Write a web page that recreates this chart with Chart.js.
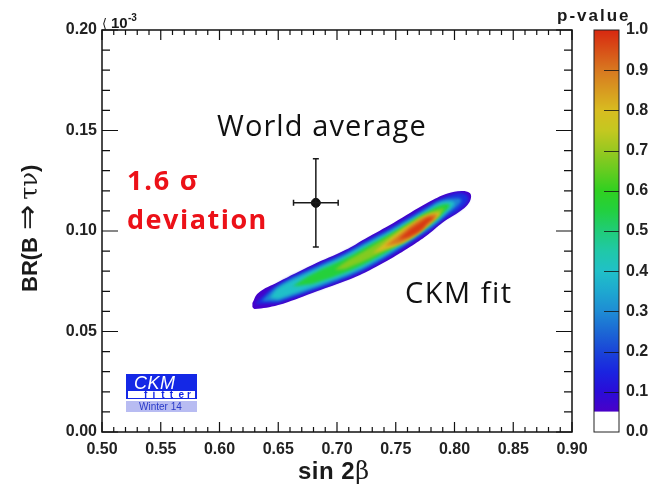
<!DOCTYPE html>
<html>
<head>
<meta charset="utf-8">
<script src="https://cdn.jsdelivr.net/npm/chart.js@4.4.1/dist/chart.umd.min.js"></script>
<style>
  body { margin: 0; background: #fff; }
  #wrap { position: relative; width: 651px; height: 486px; }
  #wrap canvas { position: absolute; top: 0; }
  #main { left: 0; }
  #bar { left: 585px; }
</style>
</head>
<body>
<div id="wrap">
  <canvas id="main" width="651" height="486"></canvas>
  <canvas id="bar" width="66" height="486"></canvas>
</div>
<script>
// axis tick labels
const xTickLabels = ['0.50', '0.55', '0.60', '0.65', '0.70', '0.75', '0.80', '0.85', '0.90'];
const yTickLabels = ['0.00', '0.05', '0.10', '0.15', '0.20'];
const pTickLabels = ['0.0', '0.1', '0.2', '0.3', '0.4', '0.5', '0.6', '0.7', '0.8', '0.9', '1.0'];

// world average (sin 2beta, BR x 1e-3)
const worldX = [0.682];
const worldXErr = [0.019];
const worldY = [0.114];
const worldYErr = [0.022];

// CKM fit p-value contours, outer to inner, [sin2beta, BR]
const contourLevels = [0.06, 0.17, 0.29, 0.40, 0.56, 0.68, 0.80, 0.90, 0.98];
const cl1 = [[0.628,0.0642],[0.633,0.0692],[0.650,0.0746],[0.679,0.0831],[0.707,0.0905],[0.724,0.0962],[0.748,0.1040],[0.777,0.1140],[0.794,0.1186],[0.806,0.1199],[0.813,0.1189],[0.814,0.1164],[0.811,0.1129],[0.805,0.1099],[0.790,0.1042],[0.777,0.0980],[0.762,0.0920],[0.748,0.0870],[0.724,0.0794],[0.707,0.0751],[0.679,0.0692],[0.650,0.0632],[0.630,0.0612],[0.628,0.0622]];
const cl2 = [[0.630,0.0637],[0.650,0.0736],[0.679,0.0821],[0.707,0.0896],[0.724,0.0950],[0.748,0.1025],[0.777,0.1124],[0.790,0.1164],[0.805,0.1189],[0.812,0.1164],[0.805,0.1109],[0.790,0.1055],[0.777,0.0995],[0.748,0.0886],[0.724,0.0806],[0.707,0.0761],[0.679,0.0701],[0.650,0.0642]];
const cl3 = [[0.636,0.0652],[0.650,0.0726],[0.679,0.0811],[0.707,0.0886],[0.724,0.0940],[0.748,0.1015],[0.777,0.1114],[0.790,0.1154],[0.806,0.1154],[0.790,0.1065],[0.777,0.1005],[0.748,0.0896],[0.724,0.0816],[0.707,0.0771],[0.679,0.0711],[0.650,0.0652]];
const cl4 = [[0.643,0.0667],[0.650,0.0716],[0.679,0.0801],[0.707,0.0876],[0.724,0.0930],[0.748,0.1005],[0.777,0.1104],[0.790,0.1144],[0.800,0.1139],[0.790,0.1075],[0.777,0.1015],[0.748,0.0905],[0.724,0.0826],[0.707,0.0781],[0.679,0.0721],[0.650,0.0662]];
const cl5 = [[0.662,0.0724],[0.679,0.0786],[0.707,0.0863],[0.724,0.0918],[0.748,0.0995],[0.777,0.1095],[0.790,0.1132],[0.796,0.1129],[0.790,0.1087],[0.777,0.1025],[0.748,0.0915],[0.724,0.0838],[0.707,0.0794],[0.679,0.0736]];
const cl6 = [[0.698,0.0806],[0.707,0.0846],[0.724,0.0903],[0.748,0.0988],[0.762,0.1040],[0.777,0.1090],[0.791,0.1109],[0.777,0.1030],[0.762,0.0965],[0.748,0.0923],[0.724,0.0853],[0.707,0.0811]];
const cl7 = [[0.730,0.0888],[0.748,0.0975],[0.762,0.1030],[0.777,0.1080],[0.788,0.1090],[0.777,0.1025],[0.762,0.0960],[0.748,0.0920]];
const cl8 = [[0.741,0.0925],[0.754,0.0985],[0.766,0.1040],[0.777,0.1075],[0.785,0.1080],[0.777,0.1030],[0.766,0.0980],[0.754,0.0940]];
const cl9 = [[0.752,0.0955],[0.762,0.1007],[0.771,0.1042],[0.777,0.1065],[0.782,0.1065],[0.777,0.1040],[0.771,0.1002],[0.762,0.0973]];
const contours = [cl1, cl2, cl3, cl4, cl5, cl6, cl7, cl8, cl9];

// colour palette of the p-value scale
const paletteStops = [0.05, 0.10, 0.15, 0.20, 0.25, 0.30, 0.35, 0.40, 0.45, 0.50, 0.55, 0.60, 0.65, 0.70, 0.75, 0.80, 0.85, 0.90, 0.95, 1.00];
const paletteColors = ['#4a00c8', '#2a0cd8', '#1a24e0', '#1a44d8', '#1c68d4', '#1e8cd4', '#1ea8d0', '#20c0c8', '#20c8a8', '#20cc78',
  '#22d040', '#30d020', '#66cc20', '#98c820', '#c4c820', '#d8bc20', '#d89a20', '#d87820', '#d85018', '#d82810'];

const tickFont = { family: 'Liberation Sans', weight: 'bold', size: 16 };

function hexToRgb(h) {
  return [parseInt(h.slice(1, 3), 16), parseInt(h.slice(3, 5), 16), parseInt(h.slice(5, 7), 16)];
}

function paletteColor(v) {
  let k = 0;
  while (k < paletteStops.length - 2 && v > paletteStops[k + 1]) k++;
  const t = Math.min(1, Math.max(0, (v - paletteStops[k]) / (paletteStops[k + 1] - paletteStops[k])));
  const a = hexToRgb(paletteColors[k]);
  const b = hexToRgb(paletteColors[k + 1]);
  const c = a.map((n, i) => Math.round(n + (b[i] - n) * t));
  return 'rgb(' + c.join(',') + ')';
}

// draws text pieces one after another; each run is [text, font, letterSpacing]
function drawRuns(ctx, x, y, runs) {
  runs.forEach(function (r) {
    ctx.font = r[1];
    ctx.letterSpacing = (r[2] || 0) + 'px';
    ctx.fillText(r[0], x, y);
    x += ctx.measureText(r[0]).width;
  });
  ctx.letterSpacing = '0px';
}

// fills the contours from the line elements that chart.js laid out
const contourFill = {
  id: 'contourFill',
  beforeDatasetsDraw(chart) {
    const ctx = chart.ctx;
    const area = chart.chartArea;
    ctx.save();
    ctx.beginPath();
    ctx.rect(area.left, area.top, area.width, area.height);
    ctx.clip();
    chart.data.datasets.forEach(function (ds, i) {
      if (ds.level === undefined) return;
      const meta = chart.getDatasetMeta(i);
      if (meta.dataset && meta.dataset.updateControlPoints) meta.dataset.updateControlPoints(area, 'x');
      const pts = meta.data;
      ctx.filter = i === 0 ? 'none' : 'blur(1.5px)';
      ctx.beginPath();
      ctx.moveTo(pts[0].x, pts[0].y);
      for (let k = 1; k <= pts.length; k++) {
        const a = pts[k - 1];
        const b = pts[k % pts.length];
        ctx.bezierCurveTo(
          a.cp2x !== undefined ? a.cp2x : a.x, a.cp2y !== undefined ? a.cp2y : a.y,
          b.cp1x !== undefined ? b.cp1x : b.x, b.cp1y !== undefined ? b.cp1y : b.y,
          b.x, b.y);
      }
      ctx.closePath();
      ctx.fillStyle = paletteColor(ds.level);
      ctx.fill();
    });
    ctx.restore();
  }
};

const errorBars = {
  id: 'errorBars',
  afterDatasetsDraw(chart) {
    const {ctx, scales: {x, y}} = chart;
    ctx.save();
    ctx.strokeStyle = '#1a1a1a';
    ctx.lineWidth = 1.5;
    for (let i = 0; i < worldX.length; i++) {
      const cx = x.getPixelForValue(worldX[i]);
      const cy = y.getPixelForValue(worldY[i]);
      const x0 = x.getPixelForValue(worldX[i] - worldXErr[i]);
      const x1 = x.getPixelForValue(worldX[i] + worldXErr[i]);
      const y0 = y.getPixelForValue(worldY[i] - worldYErr[i]);
      const y1 = y.getPixelForValue(worldY[i] + worldYErr[i]);
      ctx.beginPath();
      ctx.moveTo(x0, cy); ctx.lineTo(x1, cy);
      ctx.moveTo(cx, y0); ctx.lineTo(cx, y1);
      ctx.moveTo(x0, cy - 3); ctx.lineTo(x0, cy + 3);
      ctx.moveTo(x1, cy - 3); ctx.lineTo(x1, cy + 3);
      ctx.moveTo(cx - 3, y0); ctx.lineTo(cx + 3, y0);
      ctx.moveTo(cx - 3, y1); ctx.lineTo(cx + 3, y1);
      ctx.stroke();
    }
    ctx.restore();
  }
};

const frame = {
  id: 'frame',
  afterDraw(chart) {
    const {ctx, chartArea: a, scales: {x, y}} = chart;
    ctx.save();
    ctx.strokeStyle = '#111';
    ctx.lineWidth = 1.5;
    ctx.strokeRect(a.left, a.top, a.width, a.height);

    // inward ticks on all four sides
    ctx.lineWidth = 1.2;
    ctx.beginPath();
    const xv = xTickLabels.map(Number);
    xv.forEach(function (v, k) {
      const px = x.getPixelForValue(v);
      ctx.moveTo(px, a.bottom); ctx.lineTo(px, a.bottom - 10);
      ctx.moveTo(px, a.top); ctx.lineTo(px, a.top + 10);
      if (k < xv.length - 1) {
        for (let m = 1; m < 5; m++) {
          const mp = x.getPixelForValue(v + (xv[k + 1] - v) * m / 5);
          ctx.moveTo(mp, a.bottom); ctx.lineTo(mp, a.bottom - 5);
          ctx.moveTo(mp, a.top); ctx.lineTo(mp, a.top + 5);
        }
      }
    });
    const yv = yTickLabels.map(Number);
    yv.forEach(function (v, k) {
      const py = y.getPixelForValue(v);
      ctx.moveTo(a.left, py); ctx.lineTo(a.left + 16, py);
      ctx.moveTo(a.right, py); ctx.lineTo(a.right - 16, py);
      if (k < yv.length - 1) {
        for (let m = 1; m < 5; m++) {
          const mp = y.getPixelForValue(v + (yv[k + 1] - v) * m / 5);
          ctx.moveTo(a.left, mp); ctx.lineTo(a.left + 8, mp);
          ctx.moveTo(a.right, mp); ctx.lineTo(a.right - 8, mp);
        }
      }
    });
    ctx.stroke();

    // axis titles
    ctx.fillStyle = '#1a1a1a';
    ctx.textBaseline = 'alphabetic';
    ctx.textAlign = 'left';
    drawRuns(ctx, 298, 479, [['sin 2', 'bold 24px "Liberation Sans"', 0.5], ['\u03b2', '24px "DejaVu Serif"']]);
    ctx.save();
    ctx.translate(37, 292);
    ctx.rotate(-Math.PI / 2);
    drawRuns(ctx, 0, 0, [['BR(B', 'bold 22px "Liberation Sans"'], [' ', '22px "DejaVu Sans"'], ['\u21d2', '30px "DejaVu Sans"'],
      [' ', '16px "DejaVu Sans"'], ['\u03c4\u03bd', '24px "DejaVu Serif"'], [')', 'bold 22px "Liberation Sans"']]);
    ctx.restore();

    // exponent of the y axis
    drawRuns(ctx, 102, 28, [['\u27e8', '13px "DejaVu Sans"']]);
    drawRuns(ctx, 111, 28, [['10', 'bold 15px "Liberation Sans"']]);
    drawRuns(ctx, 128, 21, [['-3', 'bold 10px "Liberation Sans"']]);

    // palette title
    drawRuns(ctx, 557, 21, [['p-value', 'bold 17px "Liberation Sans"', 2]]);

    // annotations
    ctx.fillStyle = '#111';
    drawRuns(ctx, 217, 136, [['World average', '29px "Open Sans"', 1.1]]);
    drawRuns(ctx, 405, 303, [['CKM fit', '29px "Open Sans"', 1.5]]);
    ctx.fillStyle = '#ec1118';
    drawRuns(ctx, 127, 190, [['1.6 \u03c3', 'bold 27px "Open Sans"', 1.8]]);
    drawRuns(ctx, 127, 229, [['deviation', 'bold 27px "Open Sans"', 1.5]]);

    // CKMfitter logo
    ctx.fillStyle = '#1428e6';
    ctx.fillRect(126, 374, 71, 25);
    ctx.fillStyle = '#fff';
    ctx.fillRect(128, 391, 67, 7);
    ctx.fillStyle = '#b8bcf2';
    ctx.fillRect(126, 401, 71, 11);
    ctx.fillStyle = '#fff';
    drawRuns(ctx, 134, 389, [['CKM', 'italic 18px "Liberation Sans"', 0.5]]);
    ctx.fillStyle = '#1428e6';
    'fitter'.split('').forEach(function (ch, k) {
      drawRuns(ctx, 144 + k * 8.6, 398, [[ch, 'bold 10px "Liberation Sans"']]);
    });
    ctx.fillStyle = '#2a3ac8';
    drawRuns(ctx, 139, 410, [['Winter 14', '10px "Liberation Sans"']]);
    ctx.restore();
  }
};

const contourSets = contours.map(function (pts, i) {
  return {
    data: pts.map(function (p) { return {x: p[0], y: p[1]}; }),
    level: contourLevels[i],
    showLine: true,
    tension: 0.4,
    borderColor: 'transparent',
    borderWidth: 1,
    pointRadius: 0,
    pointHoverRadius: 0,
    fill: false,
    order: 100 - i
  };
});

new Chart(document.getElementById('main'), {
  type: 'scatter',
  data: {
    datasets: contourSets.concat([{
      data: worldX.map(function (v, i) { return {x: v, y: worldY[i]}; }),
      pointRadius: 4.5,
      backgroundColor: '#111',
      borderColor: '#111',
      order: 0
    }])
  },
  options: {
    responsive: false,
    animation: false,
    events: [],
    layout: { padding: { top: 30, right: 79, bottom: 0, left: 0 } },
    plugins: { legend: { display: false }, tooltip: { enabled: false } },
    scales: {
      x: {
        type: 'linear', min: 0.5, max: 0.9,
        grid: { display: false, drawTicks: false },
        border: { display: false },
        afterBuildTicks: function (s) { s.ticks = xTickLabels.map(function (v) { return {value: Number(v)}; }); },
        afterFit: function (s) { s.height = 54; },
        ticks: { callback: function (v, i) { return xTickLabels[i]; }, font: tickFont, color: '#222', padding: 8, maxRotation: 0, autoSkip: false }
      },
      y: {
        type: 'linear', min: 0, max: 0.2,
        grid: { display: false, drawTicks: false },
        border: { display: false },
        afterBuildTicks: function (s) { s.ticks = yTickLabels.map(function (v) { return {value: Number(v)}; }); },
        afterFit: function (s) { s.width = 102; },
        ticks: { callback: function (v, i) { return yTickLabels[i]; }, font: tickFont, color: '#222', padding: 5, autoSkip: false }
      }
    }
  },
  plugins: [contourFill, errorBars, frame]
});

// colour scale
const barFrame = {
  id: 'barFrame',
  afterDatasetsDraw(chart) {
    const {ctx, chartArea: a, scales: {y}} = chart;
    ctx.save();
    ctx.strokeStyle = '#222';
    ctx.lineWidth = 1;
    ctx.strokeRect(a.left, a.top, a.width, a.height);
    ctx.beginPath();
    pTickLabels.slice(1, -1).forEach(function (v) {
      const py = Math.round(y.getPixelForValue(Number(v))) + 0.5;
      ctx.moveTo(a.right, py); ctx.lineTo(a.right - 15, py);
    });
    ctx.strokeStyle = 'rgba(20,20,20,0.8)';
    ctx.stroke();
    ctx.restore();
  }
};

new Chart(document.getElementById('bar'), {
  type: 'bar',
  data: {
    labels: [''],
    datasets: [
      { data: [paletteStops[0]], backgroundColor: '#fff', borderWidth: 0 },
      {
        data: [1 - paletteStops[0]],
        borderWidth: 0,
        backgroundColor: function (c) {
          const ch = c.chart;
          if (!ch.chartArea) return paletteColors[0];
          const y = ch.scales.y;
          const g = ch.ctx.createLinearGradient(0, y.getPixelForValue(paletteStops[0]), 0, y.getPixelForValue(1));
          paletteStops.forEach(function (s, k) {
            g.addColorStop((s - paletteStops[0]) / (1 - paletteStops[0]), paletteColors[k]);
          });
          return g;
        }
      }
    ]
  },
  options: {
    responsive: false,
    animation: false,
    events: [],
    layout: { padding: { top: 30, bottom: 54, left: 9, right: 0 } },
    datasets: { bar: { barPercentage: 1, categoryPercentage: 1 } },
    plugins: { legend: { display: false }, tooltip: { enabled: false } },
    scales: {
      x: { display: false, stacked: true },
      y: {
        stacked: true, position: 'right', min: 0, max: 1,
        grid: { display: false, drawTicks: false },
        border: { display: false },
        afterBuildTicks: function (s) { s.ticks = pTickLabels.map(function (v) { return {value: Number(v)}; }); },
        afterFit: function (s) { s.width = 32; },
        ticks: { callback: function (v, i) { return pTickLabels[i]; }, font: tickFont, color: '#222', padding: 7, autoSkip: false }
      }
    }
  },
  plugins: [barFrame]
});
</script>
</body>
</html>
